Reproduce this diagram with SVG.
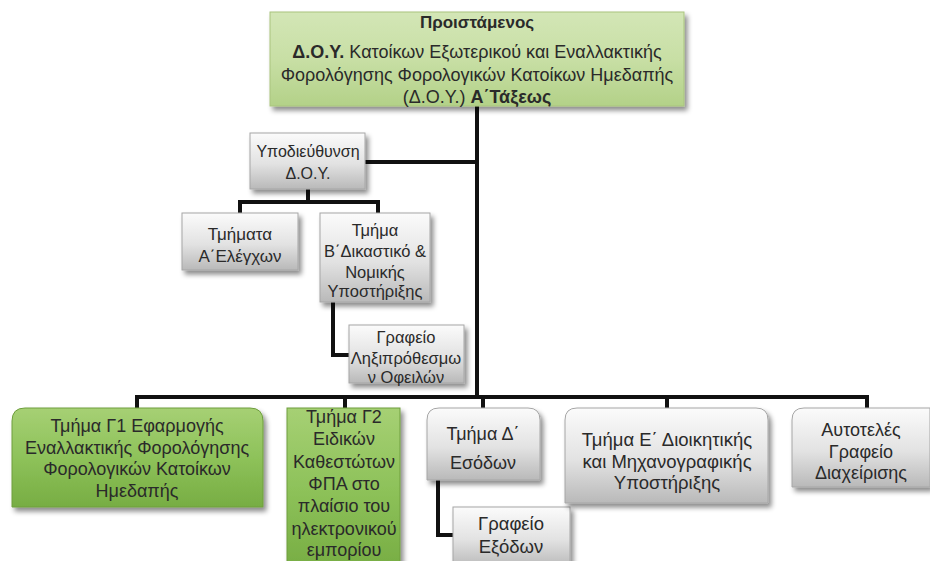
<svg xmlns="http://www.w3.org/2000/svg" width="930" height="561" viewBox="0 0 930 561">
<defs>
<linearGradient id="gGray" x1="0" y1="0" x2="0" y2="1">
<stop offset="0" stop-color="#fbfbfb"/>
<stop offset="0.55" stop-color="#e2e2e2"/>
<stop offset="1" stop-color="#b9b9b9"/>
</linearGradient>
<linearGradient id="gLight" x1="0" y1="0" x2="0" y2="1">
<stop offset="0" stop-color="#d3e6b6"/>
<stop offset="0.5" stop-color="#c8dfa5"/>
<stop offset="1" stop-color="#b3d188"/>
</linearGradient>
<linearGradient id="gGreen" x1="0" y1="0" x2="0" y2="1">
<stop offset="0" stop-color="#a6d074"/>
<stop offset="0.5" stop-color="#8ec25a"/>
<stop offset="1" stop-color="#77ad43"/>
</linearGradient>
<filter id="sh" x="-10%" y="-10%" width="125%" height="135%">
<feDropShadow dx="3" dy="4" stdDeviation="2.5" flood-color="#000" flood-opacity="0.45"/>
</filter>
</defs>
<style>
.gray{fill:url(#gGray);stroke:#a6a6a6;stroke-width:1;filter:url(#sh)}
.light{fill:url(#gLight);stroke:#a9c47f;stroke-width:1;filter:url(#sh)}
.green{fill:url(#gGreen);stroke:#6e9e3e;stroke-width:1;filter:url(#sh)}
text{font-family:"Liberation Sans","Noto Sans",sans-serif;fill:#2a2a2a;text-anchor:middle}
.b{font-weight:bold}
.con{fill:none;stroke:#111;stroke-width:4;stroke-linejoin:miter}
</style>
<g id="connectors">
<path class="con" d="M477 106 V397"/>
<path class="con" d="M365 162 H477"/>
<path class="con" d="M308 189 V202 M240 213 V202 H378 V213"/>
<path class="con" d="M333 302 V355 H350"/>
<path class="con" d="M137 408 V397 H867 V408"/>
<path class="con" d="M345 397 V409 M483 397 V409 M667 397 V409"/>
<path class="con" d="M438 480 V535 H454"/>
</g>
<g id="n-head">
<rect class="light" x="270" y="12" width="414" height="94"/>
<text class="b" x="477" y="28" style="font-size:17px">Προιστάμενος</text>
<text x="477" y="58" style="font-size:18px"><tspan class="b">Δ.Ο.Υ.</tspan> Κατοίκων Εξωτερικού και Εναλλακτικής</text>
<text x="477" y="81" style="font-size:18px">Φορολόγησης Φορολογικών Κατοίκων Ημεδαπής</text>
<text x="477" y="103" style="font-size:18px">(Δ.Ο.Υ.) <tspan class="b">Α΄Τάξεως</tspan></text>
</g>
<g id="n-sub">
<rect class="gray" x="250" y="133" width="115" height="56"/>
<text x="308" y="157" style="font-size:16px">Υποδιεύθυνση</text>
<text x="308" y="179" style="font-size:16px">Δ.Ο.Υ.</text>
</g>
<g id="n-a">
<rect class="gray" x="182" y="213" width="116" height="57"/>
<text x="240" y="240" style="font-size:17px">Τμήματα</text>
<text x="240" y="262" style="font-size:17px">Α΄Ελέγχων</text>
</g>
<g id="n-b">
<rect class="gray" x="320" y="213" width="110" height="89"/>
<text x="375" y="236" style="font-size:16.5px">Τμήμα</text>
<text x="375" y="257" style="font-size:16.5px">Β΄Δικαστικό &amp;</text>
<text x="375" y="278" style="font-size:16.5px">Νομικής</text>
<text x="375" y="297" style="font-size:16.5px">Υποστήριξης</text>
</g>
<g id="n-lix">
<rect class="gray" x="349" y="325" width="115" height="58"/>
<text x="406" y="343" style="font-size:16.5px">Γραφείο</text>
<text x="406" y="364" style="font-size:16.5px">Ληξιπρόθεσμω</text>
<text x="406" y="383" style="font-size:16.5px">ν Οφειλών</text>
</g>
<g id="n-g1">
<path class="green" d="M12 421 Q12 408 25 408 H250 Q263 408 263 421 V507 H12 Z"/>
<text x="137" y="432" style="font-size:18px">Τμήμα Γ1 Εφαρμογής</text>
<text x="137" y="454" style="font-size:18px">Εναλλακτικής Φορολόγησης</text>
<text x="137" y="475" style="font-size:18px">Φορολογικών Κατοίκων</text>
<text x="137" y="497" style="font-size:18px">Ημεδαπής</text>
</g>
<g id="n-g2">
<rect class="green" x="287" y="408" width="113" height="160"/>
<text x="344" y="423" style="font-size:18px">Τμήμα Γ2</text>
<text x="344" y="445" style="font-size:18px">Ειδικών</text>
<text x="344" y="468" style="font-size:18px">Καθεστώτων</text>
<text x="344" y="490" style="font-size:18px">ΦΠΑ στο</text>
<text x="344" y="512" style="font-size:18px">πλαίσιο του</text>
<text x="344" y="535" style="font-size:18px">ηλεκτρονικού</text>
<text x="344" y="556" style="font-size:18px">εμπορίου</text>
</g>
<g id="n-d">
<path class="gray" d="M427 420 Q427 408 439 408 H528 Q540 408 540 420 V480 H427 Z"/>
<text x="483" y="440" style="font-size:18px">Τμήμα  Δ΄</text>
<text x="483" y="469" style="font-size:18px">Εσόδων</text>
</g>
<g id="n-ex">
<rect class="gray" x="453" y="507" width="117" height="60"/>
<text x="511" y="530" style="font-size:18.5px">Γραφείο</text>
<text x="511" y="553" style="font-size:18.5px">Εξόδων</text>
</g>
<g id="n-e">
<path class="gray" d="M565 420 Q565 408 577 408 H756 Q768 408 768 420 V503 H565 Z"/>
<text x="667" y="446" style="font-size:18.5px">Τμήμα Ε΄ Διοικητικής</text>
<text x="667" y="468" style="font-size:18.5px">και Μηχανογραφικής</text>
<text x="667" y="489" style="font-size:18.5px">Υποστήριξης</text>
</g>
<g id="n-auto">
<path class="gray" d="M792 420 Q792 408 804 408 H930 V487 H792 Z"/>
<text x="861" y="436" style="font-size:18px">Αυτοτελές</text>
<text x="861" y="458" style="font-size:18px">Γραφείο</text>
<text x="861" y="479" style="font-size:18px">Διαχείρισης</text>
</g>
</svg>
